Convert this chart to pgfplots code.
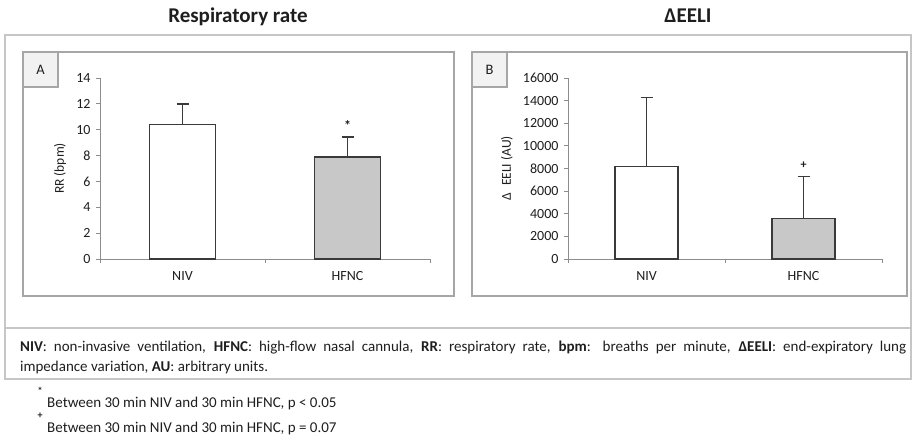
\documentclass[border=0pt]{standalone}
\usepackage{fontspec}
\setmainfont{Carlito}
\usepackage{pgfplots}
\pgfplotsset{compat=1.18}

\definecolor{framegray}{HTML}{C6C6C6}
\definecolor{panelgray}{HTML}{A6A6A6}
\definecolor{axisgray}{HTML}{8C8C8C}
\definecolor{bardark}{HTML}{3A3A3A}
\definecolor{hfncfill}{HTML}{C8C8C8}
\definecolor{labelfill}{HTML}{F2F2F2}
\definecolor{textdark}{HTML}{1E1E1E}

\pgfplotsset{
  panel/.style={
    scale only axis,
    axis lines*=left,
    axis line style={axisgray, line width=0.9pt},
    xmin=-0.5, xmax=1.5, ymin=0,
    enlargelimits=false,
    xtick={0,1}, xticklabels={NIV,HFNC},
    major x tick style={draw=none},
    minor xtick={-0.5,0.5,1.5},
    tick align=outside, major tick length=4pt, minor tick length=4pt,
    tick style={axisgray, line width=0.9pt},
    ybar, bar width=0.4, bar shift=0pt,
    tick label style={font=\fontsize{14}{16}\selectfont, text=textdark},
    xticklabel style={yshift=-5pt},
    yticklabel style={xshift=-2pt},
    /pgf/number format/assume math mode=true,
    ylabel style={font=\fontsize{13.5}{15}\selectfont, text=textdark, anchor=center},
    clip=false,
  },
  barstyle/.style={draw=bardark, line width=1.3pt,
    error bars/y dir=plus, error bars/y explicit,
    error bars/error bar style={bardark, line width=1.4pt},
    error bars/error mark options={rotate=90, bardark, mark size=6pt, line width=1.4pt}},
}

\begin{document}
\begin{tikzpicture}
\useasboundingbox (0pt,0pt) rectangle (913pt,-439pt);

% titles
\node[anchor=base, font=\fontsize{21}{24}\selectfont\bfseries, text=textdark] at (238pt,-22pt) {Respiratory rate};
\node[anchor=base, font=\fontsize{21}{24}\selectfont\bfseries, text=textdark] at (688pt,-22pt) {ΔEELI};

% outer frame and legend divider
\draw[framegray, line width=1.5pt] (5pt,-35pt) rectangle (911pt,-379pt);
\draw[framegray, line width=1.5pt] (5pt,-328pt) -- (911pt,-328pt);

% panel frames and letters
\draw[panelgray, line width=1.2pt] (23pt,-52pt) rectangle (454pt,-296pt);
\draw[panelgray, line width=1.2pt] (472pt,-52pt) rectangle (907pt,-296pt);
\draw[panelgray, line width=1.2pt, fill=labelfill] (23pt,-52pt) rectangle (58pt,-87pt);
\draw[panelgray, line width=1.2pt, fill=labelfill] (472pt,-52pt) rectangle (507pt,-87pt);
\node[font=\fontsize{14.5}{16}\selectfont, text=textdark] at (40.5pt,-70pt) {A};
\node[font=\fontsize{14.5}{16}\selectfont, text=textdark] at (489.5pt,-70pt) {B};

% Panel A: respiratory rate
\begin{axis}[panel, at={(100pt,-259pt)}, anchor=south west, width=330pt, height=181pt,
  ymax=14, ytick={0,2,...,14},
  ylabel={RR (bpm)},
  ylabel style={at={(axis description cs:-0.1212,0.5)}}]
  \addplot[fill=white, barstyle] coordinates {(0,10.4) +- (0,1.6)};
  \addplot[fill=hfncfill, barstyle] coordinates {(1,7.9) +- (0,1.55)};
  \node[anchor=base, font=\fontsize{14}{16}\selectfont\bfseries, text=textdark] at (axis cs:1,9.95) {*};
\end{axis}

% Panel B: end-expiratory lung impedance variation
\begin{axis}[panel, at={(568pt,-259pt)}, anchor=south west, width=314pt, height=181pt,
  ymax=16000, ytick={0,2000,...,16000},
  scaled y ticks=false,
  yticklabel style={/pgf/number format/1000 sep={}},
  ylabel={Δ\hspace{0.55em}EELI (AU)},
  ylabel style={at={(axis description cs:-0.1943,0.5)}}]
  \addplot[fill=white, barstyle] coordinates {(0,8150) +- (0,6150)};
  \addplot[fill=hfncfill, barstyle] coordinates {(1,3600) +- (0,3700)};
  \node[anchor=base, font=\fontsize{12}{14}\selectfont\bfseries, text=textdark] at (axis cs:1,8020) {+};
\end{axis}

% abbreviations
\node[anchor=north west, inner sep=0pt, text width=886pt, align=justify,
  font=\fontsize{15}{20}\selectfont, text=textdark] at (20pt,-340.5pt)
  {\textbf{NIV}: non-invasive ventilation, \textbf{HFNC}: high-flow nasal cannula, \textbf{RR}: respiratory rate, \textbf{bpm}: breaths per minute, \textbf{ΔEELI}: end-expiratory lung\linebreak impedance variation, \textbf{AU}: arbitrary units.};

% significance notes
\node[font=\fontsize{10}{12}\selectfont\bfseries, text=textdark, inner sep=0pt] at (40pt,-391pt) {*};
\node[anchor=base west, inner sep=0pt, font=\fontsize{15}{18}\selectfont, text=textdark] at (47pt,-407pt)
  {Between 30 min NIV and 30 min HFNC, p < 0.05};
\node[font=\fontsize{10}{12}\selectfont\bfseries, text=textdark, inner sep=0pt] at (40pt,-416pt) {+};
\node[anchor=base west, inner sep=0pt, font=\fontsize{15}{18}\selectfont, text=textdark] at (47pt,-432pt)
  {Between 30 min NIV and 30 min HFNC, p = 0.07};
\end{tikzpicture}
\end{document}
